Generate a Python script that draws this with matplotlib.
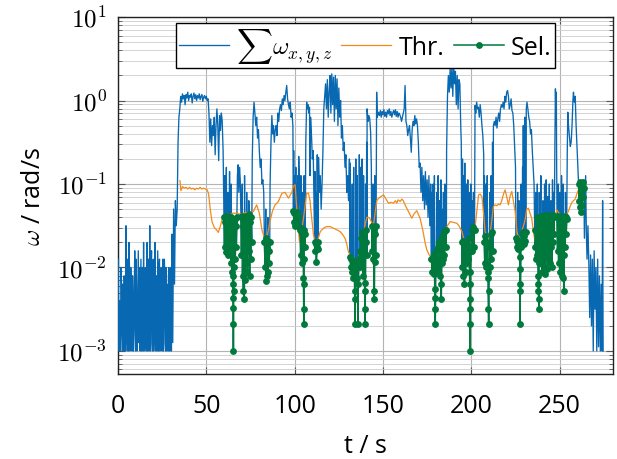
import numpy as np
import matplotlib
matplotlib.use('Agg')
import matplotlib.pyplot as plt
from matplotlib.ticker import NullFormatter, LogLocator

plt.rcParams['font.family'] = ['Open Sans', 'DejaVu Sans']
plt.rcParams['mathtext.fontset'] = 'cm'

# ---------------- data (exponents of 10) -------------
sig_t = [0.0, 0.5, 1.0, 1.5, 2.0, 2.5, 3.0, 3.5, 4.0, 4.5, 5.0, 5.5, 6.0, 6.5, 7.0, 7.5, 8.0, 8.5, 9.0, 9.5,
         10.0, 10.5, 11.0, 11.5, 12.0, 12.5, 13.0, 13.5, 14.0, 14.5, 15.0, 15.5, 16.0, 16.5, 17.0, 17.5, 18.0, 18.5, 19.0, 19.5,
         20.0, 20.5, 21.0, 21.5, 22.0, 22.5, 23.0, 23.5, 24.0, 24.5, 25.0, 25.5, 26.0, 26.5, 27.0, 27.5, 28.0, 28.5, 29.0, 29.5,
         30.0, 30.5, 31.0,
         31.5, 32.0, 32.5, 33.0, 33.5, 34.0, 34.5, 35.0, 35.5,
         36.0, 36.5, 37.0, 37.5, 38.0, 38.5, 39.0, 39.5, 40.0, 40.5, 41.0, 41.5, 42.0, 42.5, 43.0, 43.5, 44.0, 44.5, 45.0, 45.5,
         46.0, 46.5, 47.0, 47.5, 48.0, 48.5, 49.0, 49.5, 50.0, 50.5, 51.0,
         51.5, 52.0, 52.5, 53.0, 53.5, 54.0, 54.5, 55.0, 55.5, 56.0, 56.5, 57.0, 57.5, 58.0, 58.5, 59.0, 59.5,
         60.45, 61.35, 62.25, 63.15, 64.05,
         67.6, 68.0, 68.4, 68.8, 69.2,
         70.35, 71.65, 72.85, 74.05,
         76.0, 76.5, 77.0, 77.5, 78.0, 78.5, 79.0, 79.5, 80.0, 80.5, 81.0, 81.5, 82.0, 82.5,
         83.65, 84.85,
         86.1, 86.6, 87.1, 87.6, 88.0, 88.5, 89.0, 89.5, 90.0, 90.5, 91.0, 91.5, 92.0, 92.5, 93.0, 93.5, 94.0, 94.5, 95.0, 95.5,
         96.0, 96.5, 97.0, 97.5, 98.0, 98.5, 99.0,
         99.45, 100.05, 100.65, 101.25, 101.85,
         102.3, 102.7,
         103.55, 104.15, 105.35,
         106.3, 106.8, 107.2, 107.6, 108.0, 108.4, 108.7, 109.0, 109.6, 110.0, 110.5,
         111.5, 112.15, 112.8, 113.5,
         114.0, 114.5, 115.0, 115.5, 116.0, 116.5, 117.0, 117.5, 118.0, 118.5, 119.0, 119.5, 120.0, 120.5, 121.0, 121.5,
         122.0, 122.5, 123.0, 123.5, 124.0, 124.5, 125.0, 125.5, 126.0, 126.5, 127.0, 127.5, 128.0, 128.5, 129.0, 129.5,
         130.0, 130.5, 131.0,
         131.5, 132.6, 133.4, 134.6, 135.4, 136.6, 137.4, 138.2, 139.0, 140.15, 140.75,
         141.0, 141.5, 142.0, 142.5, 143.0, 143.4,
         144.35, 145.35,
         146.4, 146.8, 147.4, 148.0, 148.5, 149.0, 149.5, 150.0, 150.5, 151.0, 151.5, 152.0, 152.5, 153.0, 153.5, 154.0,
         154.5, 155.0, 155.5, 156.0, 156.5, 157.0, 157.5, 158.0, 158.5, 159.0, 159.5, 160.0,
         160.5, 161.0, 161.5, 162.0, 162.5, 163.0, 163.5, 164.0, 164.5, 165.0, 165.5, 166.0, 166.5, 167.0, 167.5, 168.0,
         168.5, 169.0, 169.5, 170.0, 170.5, 171.0, 171.5, 172.0, 172.5, 173.0, 173.5, 174.0, 174.5, 175.0, 175.5, 176.0,
         176.5, 177.0,
         177.6, 178.4, 179.1, 180.4, 181.2, 182.0, 182.8, 183.4, 184.2, 185.0,
         186.0, 186.5, 187.0, 187.5, 188.0, 188.5, 189.0, 189.5, 190.0, 190.5, 191.0, 191.5, 192.0, 192.5, 193.0, 193.5,
         194.0, 194.3,
         195.0, 195.7, 196.3, 197.2, 198.0, 198.8, 199.7, 200.4, 201.2,
         202.1, 202.5, 203.0, 203.5, 204.0, 204.5, 205.0, 205.5, 206.0, 206.5, 207.0,
         207.4, 208.2, 209.0, 210.4, 211.2,
         212.0, 212.5, 213.0, 213.5, 214.0, 214.5, 215.0, 215.5, 216.0, 216.5, 217.0, 217.5, 218.0, 218.5, 219.0, 219.5,
         220.0, 220.5, 221.0, 221.5, 222.0, 222.5, 223.0, 223.5, 224.0, 224.5, 225.0,
         226.2, 227.0, 228.2, 229.0, 229.4, 229.9, 230.3, 230.6,
         231.1, 231.5, 232.0, 232.5, 233.0, 233.5, 234.0, 234.5, 235.0, 235.5,
         236.45, 237.35, 238.45, 239.35, 240.55, 241.45, 242.35, 243.25, 244.15, 245.05, 245.95, 246.55,
         247.3, 247.6, 247.9, 248.1, 248.3,
         249.25, 250.15, 251.05, 252.0, 253.25,
         254.3, 254.6, 255.0, 255.5, 256.0, 256.5, 257.0, 257.5, 257.8, 258.3, 258.8, 259.3, 259.8, 260.3,
         264.0, 264.4, 264.7, 265.1, 265.5, 266.0, 266.5, 267.0, 267.5, 268.0, 268.5, 269.0, 269.5, 270.0, 270.5, 271.0,
         271.5, 272.0, 272.5, 273.0, 273.5, 274.0, 274.3, 274.6]
sig_e = [-2.3, -3.0, -2.4, -2.7, -2.2, -3.0, -2.5, -2.1, -3.0, -1.5, -2.6, -1.9, -3.0, -2.0, -2.8, -2.3, -3.0, -2.4, -2.7, -1.8,
         -3.0, -2.2, -2.9, -1.8, -2.6, -3.0, -1.9, -2.5, -3.0, -1.7, -2.7, -2.0, -3.0, -1.7, -2.5, -3.0, -1.5, -2.6, -1.8, -3.0,
         -1.9, -2.8, -1.7, -3.0, -2.2, -1.8, -3.0, -1.9, -2.7, -2.0, -3.0, -1.9, -2.6, -2.1, -3.0, -2.1, -2.5, -3.0, -2.1, -3.0,
         -2.1, -1.6, -2.9,
         -1.3, -2.2, -1.2, -1.5, -1.3, -0.5, -0.2, -0.1, 0.05,
         -0.02, 0.08, 0.02, 0.06, -0.05, 0.07, 0.03, 0.10, 0.0, 0.06, 0.04, 0.08, -0.03, 0.05, 0.09, 0.02, 0.07, 0.0, 0.06, 0.03,
         0.08, 0.01, 0.05, 0.07, -0.01, 0.04, 0.06, 0.02, 0.05, 0.0, 0.02,
         -0.15, -0.5, -0.22, -0.54, -0.3, -0.42, -0.2, -0.65, -0.3, -0.1, -0.3, -0.72, -0.18, -0.36, -0.15, -0.25, -0.6,
         -0.9, -0.8, -1.1, -0.85, -1.0,
         -0.9, -0.77, -1.1, -0.8, -0.95,
         -1.0, -0.9, -1.1, -1.2,
         -0.7, -0.2, -0.02, -0.15, -0.3, -0.2, -0.45, -0.35, -0.6, -0.8, -0.7, -1.0, -0.95, -1.1,
         -1.3, -1.4,
         -1.0, -0.5, -0.18, -0.4, -0.3, -0.5, -0.35, -0.3, -0.42, -0.15, -0.25, -0.1, -0.05, -0.12, 0.02, -0.05, 0.06, 0.0, 0.1, 0.18,
         0.02, -0.05, -0.1, -0.02, -0.2, -0.15, -0.3,
         -0.6, -0.9, -0.8, -1.0, -0.9,
         -0.67, -1.0,
         -0.9, -1.1, -0.9,
         -0.5, -0.02, -0.1, -0.05, -0.15, -0.08, -0.9, -0.2, -0.45, -0.7, -0.6,
         -0.85, -1.1, -0.65, -0.68,
         -1.1, -0.9, -1.3, -1.0, -0.6, -0.1, 0.05, 0.2, -0.1, 0.25, -0.2, 0.1, 0.3, -0.15, 0.32, -0.05,
         0.28, -0.25, 0.3, -0.1, 0.26, -0.3, 0.15, -0.2, 0.0, -0.45, -0.3, -0.6, -0.5, -0.8, -0.65, -1.1,
         -0.9, -1.2, -0.7,
         -0.75, -1.0, -0.8, -0.7, -0.9, -0.65, -0.8, -0.7, -0.9, -1.0, -0.5,
         -0.1, -0.25, -0.18, -0.22, -0.38, -0.8,
         -1.0, -0.9,
         0.1, -0.2, -0.14, -0.18, -0.12, -0.2, -0.13, -0.17, -0.11, -0.19, -0.14, -0.2, -0.12, -0.16, -0.1, -0.18,
         -0.13, -0.2, -0.15, -0.12, -0.17, -0.11, -0.19, -0.13, -0.2, -0.15, -0.17, -0.2,
         -0.25, -0.2, -0.15, -0.1, 0.18, -0.25, -0.3, -0.42, -0.35, -0.3, -0.45, -0.62, -0.35, -0.25, -0.3, -0.18,
         -0.28, -0.22, -0.3, -0.5, -0.8, -0.75, -1.1, -0.8, -1.2, -0.9, -1.3, -0.85, -1.25, -0.95, -1.4, -0.9,
         -1.5, -1.0,
         -1.1, -1.0, -0.9, -1.1, -0.9, -1.2, -0.95, -1.3, -1.1, -1.0,
         -0.6, 0.05, 0.3, 0.1, 0.38, 0.15, 0.4, 0.05, 0.42, 0.2, 0.35, -0.05, 0.3, -0.1, 0.25, 0.2,
         -0.3, -0.5,
         -0.7, -0.9, -0.75, -1.0, -0.95, -1.1, -1.0, -1.2, -1.1,
         -0.06, -0.15, -0.02, -0.1, -0.08, -0.2, -0.05, -0.15, -0.3, -0.42, -0.65,
         -0.9, -1.0, -0.9, -1.1, -0.9,
         -0.5, -0.3, -0.25, -0.3, -0.2, -0.33, -0.22, -0.15, -0.25, -0.1, -0.05, -0.08, -0.02, -0.1, 0.05, -0.02,
         0.1, 0.12, 0.05, -0.1, -0.05, 0.02, -0.12, -0.15, -0.3, -0.55, -0.8,
         -1.1, -1.2, -1.0, -0.8, -0.3, -0.4, -0.2, -0.3,
         -0.1, -0.02, -0.1, -0.2, -0.25, -0.4, -0.35, -0.6, -0.8, -1.0,
         -1.1, -1.0, -1.1, -0.9, -1.2, -1.0, -0.95, -1.15, -1.0, -1.2, -0.95, -1.1,
         -0.5, 0.14, -0.3, 0.1, -0.8,
         -1.0, -1.1, -0.9, -1.0, -1.1,
         -0.6, -0.14, -0.3, -0.42, -0.55, -0.5, -0.3, 0.0, 0.1, -0.02, 0.05, -0.3, -0.55, -0.8,
         -1.65, -1.2, -0.9, -1.6, -1.9, -1.5, -1.95, -2.6, -1.85, -2.7, -1.9, -3.0, -1.8, -2.5, -2.0, -3.0,
         -1.9, -2.95, -2.1, -3.0, -2.2, -3.0, -1.2, -3.0]

# extra samples of the noisy start (between the samples above)
noise_t = [0.25, 0.75, 1.25, 1.75, 2.25, 2.75, 3.25, 3.75, 4.25, 4.75, 5.25, 5.75, 6.25, 6.75, 7.25, 7.75,
           8.25, 8.75, 9.25, 9.75, 10.25, 10.75, 11.25, 11.75, 12.25, 12.75, 13.25, 13.75, 14.25, 14.75, 15.25, 15.75,
           16.25, 16.75, 17.25, 17.75, 18.25, 18.75, 19.25, 19.75, 20.25, 20.75, 21.25, 21.75, 22.25, 22.75, 23.25, 23.75,
           24.25, 24.75, 25.25, 25.75, 26.25, 26.75, 27.25, 27.75, 28.25, 28.75, 29.25, 29.75, 30.25, 30.75]
noise_e = [-1.9, -2.6, -3.0, -2.0, -2.8, -2.2, -3.0, -2.3, -2.9, -2.1, -3.0, -2.4, -1.7, -3.0, -2.0, -2.9,
           -2.1, -3.0, -2.2, -2.8, -1.9, -3.0, -2.3, -2.9, -2.0, -2.4, -3.0, -2.0, -2.6, -3.0, -2.1, -2.9,
           -2.2, -3.0, -1.9, -2.4, -3.0, -2.0, -2.9, -2.1, -3.0, -2.0, -2.8, -2.1, -3.0, -2.4, -2.0, -3.0,
           -2.1, -2.9, -2.2, -3.0, -1.9, -2.9, -2.0, -3.0, -2.2, -2.0, -3.0, -2.0, -3.0, -2.2]

thr_t = [35.1, 35.6, 36.5, 37.5, 38.5, 39.5, 40.5, 41.5, 42.5, 43.5, 44.5, 45.5, 46.5, 47.5, 48.5, 49.5, 50.5, 51.3,
         52.1, 53.2, 54.5, 55.8, 56.8, 58.0, 59.0, 60.0, 61.5, 63.0, 65.0, 67.0, 69.0, 71.0, 73.0, 75.0, 76.6, 78.5,
         80.0, 81.5, 82.5, 83.2, 84.5, 86.0, 87.5, 88.9, 90.8, 92.8, 94.6, 96.5, 98.4, 99.2, 100.3, 101.2, 102.7,
         104.0, 105.0, 106.0, 106.8, 107.8, 108.7, 109.7, 110.6, 111.5, 112.5, 113.4, 114.5, 116.3, 118.0, 120.0,
         122.0, 124.0, 125.7, 127.0, 128.5, 129.5, 130.4, 131.5, 132.3, 134.2, 136.1, 137.5, 139.0, 140.0, 140.9,
         141.8, 142.7, 143.6, 144.6, 145.5, 146.5, 147.5, 148.9, 150.3, 151.7, 153.1, 154.5, 156.0, 157.0, 157.8,
         158.5, 159.7, 160.7, 161.5, 162.5, 164.4, 166.3, 167.5, 169.1, 171.0, 172.5, 174.0, 174.8, 176.2, 177.6,
         179.0, 180.5, 182.0, 183.5, 185.2, 186.5, 188.0, 190.0, 191.8, 193.0, 194.7, 195.6, 196.6, 197.6, 198.6,
         199.6, 200.6, 201.5, 202.3, 203.2, 204.1, 205.0, 206.0, 206.9, 207.8, 208.7, 209.7, 210.6, 211.5, 212.5,
         213.5, 214.5, 215.4, 216.3, 217.2, 218.2, 219.1, 220.0, 221.0, 222.0, 222.9, 223.8, 224.8, 225.8, 226.8,
         228.0, 229.5, 230.5, 231.4, 232.3, 233.2, 234.2, 235.1, 236.1, 237.0, 238.0, 239.5, 241.0, 242.5, 244.0,
         245.5, 246.8, 247.6, 248.4, 249.3, 250.2, 251.2, 252.2, 253.1, 254.0, 254.9, 255.9, 256.9, 257.8, 258.8,
         259.7, 260.6, 261.5, 262.5, 263.5]
thr_e = [-0.96, -1.08, -1.03, -1.05, -1.04, -1.06, -1.04, -1.06, -1.05, -1.07, -1.05, -1.06, -1.04, -1.06, -1.05, -1.06, -1.07, -1.12,
         -1.28, -1.45, -1.52, -1.55, -1.58, -1.50, -1.42, -1.38, -1.36, -1.36, -1.35, -1.35, -1.36, -1.35, -1.34, -1.35, -1.33, -1.25,
         -1.35, -1.55, -1.62, -1.67, -1.62, -1.45, -1.32, -1.25, -1.21, -1.11, -1.10, -1.17, -1.10, -1.03, -1.01, -1.30, -1.69,
         -1.55, -1.41, -1.25, -1.11, -1.11, -1.20, -1.42, -1.60, -1.69, -1.69, -1.65, -1.57, -1.53, -1.51, -1.51,
         -1.53, -1.55, -1.57, -1.60, -1.65, -1.72, -1.81, -1.86, -1.90, -1.92, -1.89, -1.75, -1.60, -1.47, -1.40,
         -1.40, -1.42, -1.46, -1.49, -1.35, -1.20, -1.17, -1.15, -1.13, -1.18, -1.23, -1.22, -1.23, -1.20, -1.23,
         -1.19, -1.21, -1.18, -1.20, -1.25, -1.33, -1.41, -1.36, -1.32, -1.41, -1.55, -1.72, -1.79, -1.85, -1.88,
         -1.86, -1.80, -1.70, -1.62, -1.55, -1.50, -1.45, -1.46, -1.47, -1.50, -1.57, -1.65, -1.72, -1.75, -1.72,
         -1.70, -1.62, -1.53, -1.48, -1.30, -1.13, -1.12, -1.15, -1.35, -1.57, -1.62, -1.65, -1.60, -1.45, -1.27,
         -1.25, -1.26, -1.24, -1.25, -1.20, -1.12, -1.07, -1.15, -1.25, -1.14, -1.09, -1.20, -1.33, -1.57, -1.65,
         -1.60, -1.50, -1.42, -1.30, -1.29, -1.35, -1.41, -1.57, -1.69, -1.70, -1.62, -1.50, -1.42, -1.38, -1.37,
         -1.38, -1.40, -1.40, -1.31, -1.34, -1.36, -1.37, -1.37, -1.37, -1.36, -1.33, -1.27, -1.22, -1.20, -1.18,
         -1.12, -1.07, -1.03, -0.99, -0.97]

nan = float('nan')
sel_t = [60.0, 60.3, 60.6, 60.9, 61.2, 61.5, 61.8, 62.1, 62.4, 62.7, 63.0, 63.3, 63.6, 63.9, 64.2, 64.5, 64.8, 65.1,
         65.2, 65.25, 65.3, 65.33, 65.36, 65.4, 65.5, 65.8, 66.1, 66.4, 66.7, 67.0, 67.3, nan,
         69.6, 69.9, 70.2, 70.5, 70.8, 71.0, 71.2, 71.5, 71.8, 72.1, 72.4, 72.7, 73.0, 73.3, 73.6, 73.9, 74.2, 74.5,
         74.8, 75.1, 75.4, 75.7, nan,
         82.9, 83.2, 83.5, 83.8, 84.1, 84.4, 84.7, 85.0, 85.3, 85.6, 85.9, nan,
         99.3, 99.6, 99.9, 100.2, 100.5, 100.8, 101.1, 101.4, 101.7, 102.0, nan,
         103.1, 103.4, 103.7, 104.0, 104.3, 104.6, 104.9, 105.0, 105.05, 105.1, 105.15, 105.2, 105.5, 105.8, 106.0, nan,
         111.3, 111.7, 112.0, 112.3, 112.6, 113.0, 113.3, nan,
         131.3, 131.7, 132.0, 132.4, 132.8, 133.2, 133.6, 134.0, 134.2, 134.4, 134.8, 135.2, 135.6, 135.8, 136.0, 136.4,
         136.8, 137.2, 137.6, 138.0, 138.4, 138.8, 139.2, 139.6, 139.8, 139.9, 140.0, 140.3, 140.6, 140.9, nan,
         143.6, 143.9, 144.2, 144.5, 144.8, 145.0, 145.1, 145.2, 145.5, 145.8, 146.1, nan,
         177.4, 177.8, 178.2, 178.6, 179.0, 179.3, 179.4, 179.5, 179.6, 179.8, 180.2, 180.6, 181.0, 181.4, 181.8, 182.2,
         182.6, 182.9, 183.0, 183.2, 183.6, 184.0, 184.4, 184.8, 185.2, 185.6, 185.9, nan,
         194.6, 194.9, 195.2, 195.5, 195.8, 196.1, 196.4, 196.7, 197.0, 197.4, 197.8, 198.2, 198.6, 199.0, 199.2, 199.3,
         199.35, 199.4, 199.5, 199.8, 200.2, 200.6, 201.0, 201.4, 201.8, nan,
         207.2, 207.6, 208.0, 208.4, 208.8, 209.2, 209.5, 209.7, 209.8, 209.9, 210.2, 210.6, 211.0, 211.4, 211.8, 212.2, nan,
         225.2, 225.6, 226.0, 226.4, 226.8, 227.3, 227.5, 227.6, 227.7, 227.8, 228.0, 228.4, 228.8, 229.2, 229.6, 230.0,
         230.4, 230.8, nan,
         236.0, 236.3, 236.6, 236.9, 237.2, 237.5, 237.8, 237.9, 238.0, 238.1, 238.2, 238.3, 238.6, 238.9, 239.2, 239.5,
         239.8, 240.1, 240.4, 240.7, 241.0, 241.3, 241.6, 241.9, 242.2, 242.5, 242.8, 243.1, 243.4, 243.7, 244.0, 244.3,
         244.6, 244.9, 245.2, 245.5, 245.8, 246.1, 246.4, 246.7, 247.0, nan,
         248.5, 248.8, 249.1, 249.4, 249.7, 250.0, 250.3, 250.6, 250.9, 251.2, 251.5, 251.8, 252.1, 252.3, 252.5, 252.8,
         253.1, 253.4, 253.7, 254.0, nan,
         260.7, 261.0, 261.3, 261.6, 261.9, 262.2, 262.5, 262.8, 263.1, 263.4, 263.7]
sel_e = [-1.40, -1.75, -1.45, -1.82, -1.38, -1.70, -1.42, -1.85, -1.40, -1.78, -1.38, -1.60, -1.45, -1.95, -1.40, -2.05, -1.50, -2.10,
         -2.20, -2.36, -2.68, -3.0, -2.48, -2.28, -1.45, -2.00, -1.42, -1.90, -1.50, -1.75, -1.40, nan,
         -1.40, -1.85, -1.38, -2.10, -1.50, -2.28, -1.45, -2.38, -1.60, -2.15, -1.38, -1.95, -1.42, -2.05, -1.40, -1.80, -1.36, -2.10,
         -1.45, -1.90, -1.40, -1.70, nan,
         -1.70, -2.00, -1.65, -2.16, -1.75, -2.10, -1.68, -2.05, -1.80, -1.95, -1.70, nan,
         -1.32, -1.45, -1.35, -1.50, -1.38, -1.48, -1.33, -1.45, -1.40, -1.50, nan,
         -1.55, -1.85, -1.53, -1.95, -1.60, -1.90, -1.58, -2.12, -2.20, -2.50, -2.68, -1.90, -1.55, -1.75, -1.60, nan,
         -1.70, -1.80, -1.72, -1.93, -1.75, -1.78, -1.70, nan,
         -1.88, -2.00, -1.90, -2.05, -1.95, -2.12, -1.92, -2.28, -2.68, -2.38, -1.95, -2.12, -2.00, -2.68, -2.20, -1.90,
         -1.80, -2.00, -1.65, -1.95, -1.58, -2.10, -1.60, -2.18, -2.50, -2.68, -2.28, -1.70, -1.55, -1.85, nan,
         -1.50, -1.80, -1.52, -1.90, -1.55, -2.28, -2.38, -1.93, -1.60, -1.85, -1.50, nan,
         -1.90, -2.05, -1.88, -2.08, -1.85, -2.26, -2.36, -2.50, -2.68, -2.00, -1.80, -2.05, -1.75, -2.00, -1.70, -2.10,
         -1.68, -2.20, -2.38, -1.95, -1.62, -1.90, -1.58, -1.85, -1.55, -1.75, -1.55, nan,
         -1.70, -2.00, -1.68, -2.10, -1.75, -2.20, -1.80, -2.05, -1.72, -1.95, -1.78, -1.90, -1.65, -2.05, -2.38, -2.50,
         -2.68, -3.0, -2.20, -1.80, -1.55, -1.80, -1.52, -1.75, -1.55, nan,
         -1.70, -1.95, -1.62, -2.00, -1.70, -2.05, -2.12, -2.50, -2.68, -2.28, -1.75, -2.00, -1.60, -1.90, -1.58, -1.80, nan,
         -1.65, -1.75, -1.68, -1.78, -1.70, -1.88, -2.02, -2.68, -2.20, -2.28, -1.75, -1.60, -1.70, -1.58, -1.72, -1.62,
         -1.68, -1.57, nan,
         -1.75, -1.55, -1.90, -1.40, -1.85, -1.45, -2.10, -2.20, -2.28, -2.38, -2.50, -1.95, -1.40, -1.80, -1.38, -1.95,
         -1.42, -2.05, -1.38, -1.75, -1.40, -2.00, -1.37, -2.08, -1.45, -1.85, -1.38, -2.02, -1.40, -1.90, -1.37, -1.95,
         -1.42, -1.75, -1.38, -2.00, -1.40, -1.70, -1.37, -1.60, -1.40, nan,
         -1.40, -1.80, -1.38, -1.95, -1.40, -2.05, -1.42, -1.90, -1.38, -2.10, -1.45, -2.12, -1.40, -2.28, -1.85, -1.38,
         -1.75, -1.40, -1.60, -1.42, nan,
         -1.00, -1.20, -0.98, -1.28, -1.02, -1.33, -1.05, -1.25, -0.98, -1.15, -1.05]

x_ticks = [0, 50, 100, 150, 200, 250]
y_ticks = [1e-3, 1e-2, 1e-1, 1e0, 1e1]
y_tick_labels = [r'$10^{-3}$', r'$10^{-2}$', r'$10^{-1}$', r'$10^{0}$', r'$10^{1}$']
labels = [r'$\sum\omega_{x,y,z}$', 'Thr.', 'Sel.']

# ---------------- figure ----------------
blue = '#0868b2'
orange = '#f28b1a'
green = '#007a3c'

fig = plt.figure(figsize=(6.17, 4.60), dpi=100)
ax = fig.add_axes([0.1912, 0.1848, 0.8018, 0.776])
ax.set_yscale('log')

st = np.concatenate([np.array(sig_t, float), np.array(noise_t, float)])
sw = 10.0 ** np.concatenate([np.array(sig_e, float), np.array(noise_e, float)])
gt = np.array(sel_t, float)
gw = 10.0 ** np.array(sel_e, float)
m = ~np.isnan(gt)
all_t = np.concatenate([st, gt[m]])
all_w = np.concatenate([sw, gw[m]])
order = np.argsort(all_t, kind='stable')

ax.plot(all_t[order], all_w[order], color=blue, lw=0.95, label=labels[0], zorder=3)
ax.plot(thr_t, 10.0 ** np.array(thr_e), color=orange, lw=0.9, label=labels[1], zorder=4)
ax.plot(gt, gw, color=green, lw=1.1, marker='o', ms=3.9, label=labels[2], zorder=5)

ax.set_xlim(0, 280)
ax.set_ylim(5.3e-4, 10)
ax.set_xticks(x_ticks)
ax.set_xticklabels([str(v) for v in x_ticks])
ax.set_yticks(y_ticks)
ax.set_yticklabels(y_tick_labels)
ax.yaxis.set_minor_locator(LogLocator(base=10, subs=np.arange(2, 10)))
ax.yaxis.set_minor_formatter(NullFormatter())

ax.set_axisbelow(True)
ax.grid(which='major', color='#b4b4b4', lw=0.8)
ax.grid(which='minor', axis='y', color='#cdcdcd', lw=0.6)

ax.tick_params(which='both', direction='in', top=True, right=True, color='#555555')
ax.tick_params(which='major', length=5, width=0.8)
ax.tick_params(which='minor', length=3, width=0.6)
ax.tick_params(axis='x', labelsize=18, pad=14)
ax.tick_params(axis='y', labelsize=18, pad=8)
for s in ax.spines.values():
    s.set_linewidth(1.0)
    s.set_color('#222222')

ax.set_xlabel('t / s', fontsize=18)
ax.set_ylabel(r'$\omega$ / rad/s', fontsize=18)
ax.xaxis.set_label_coords(0.5, -0.165)
ax.yaxis.set_label_coords(-0.146, 0.5)

leg = ax.legend(ncol=3, loc='upper center', bbox_to_anchor=(0.5, 1.0), fontsize=18, frameon=True,
                fancybox=False, edgecolor='black', framealpha=1, handlelength=2.0, handletextpad=0.3,
                columnspacing=0.35, borderpad=0.12, borderaxespad=0.25)
leg.get_frame().set_linewidth(1.0)

fig.savefig('out.png', dpi=100)
